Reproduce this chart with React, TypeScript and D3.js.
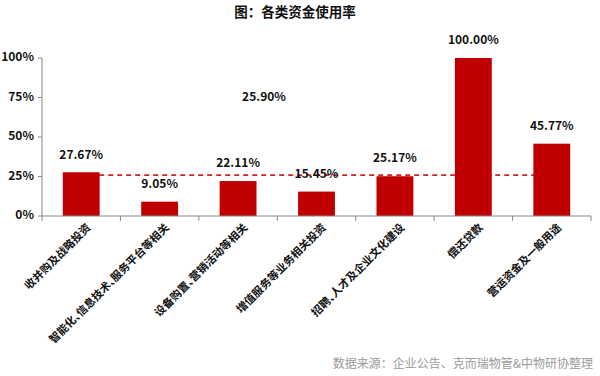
import React from "react";
import * as d3 from "d3";

const categories = [
  "收并购及战略投资",
  "智能化、信息技术、服务平台等相关",
  "设备购置、营销活动等相关",
  "增值服务等业务相关投资",
  "招聘、人才及企业文化建设",
  "偿还贷款",
  "营运资金及一般用途",
];
const values = [27.67, 9.05, 22.11, 15.45, 25.17, 100.0, 45.77];
const averageValue = 25.9;
const yTicks = [0, 25, 50, 75, 100];
const title = "图：各类资金使用率";
const source = "数据来源：企业公告、克而瑞物管&中物研协整理";

const W = 600;
const H = 376;
const FONT = "'Noto Sans CJK SC', 'Noto Sans', sans-serif";
const RED = "#C00000";

function splitLabel(s: string) {
  const parts: { t: string; comma: boolean }[] = [];
  let buf = "";
  for (const ch of s) {
    if (ch === "、") {
      if (buf) parts.push({ t: buf, comma: false });
      parts.push({ t: ch, comma: true });
      buf = "";
    } else buf += ch;
  }
  if (buf) parts.push({ t: buf, comma: false });
  return parts;
}

export default function App() {
  const left = 42;
  const right = 591;
  const top = 58;
  const bottom = 216;
  const x = d3.scaleBand<string>().domain(categories).range([left, right]).paddingInner(0.53).paddingOuter(0.265);
  const y = d3.scaleLinear().domain([0, 100]).range([bottom, top]);
  const bw = x.bandwidth();
  const boundaries = d3.range(categories.length + 1).map((i) => left + i * ((right - left) / categories.length));
  const cx = (c: string) => (x(c) as number) + bw / 2;

  return (
    <svg width={W} height={H} style={{ position: "absolute", left: 0, top: 0 }} fontFamily={FONT}>
      <rect width={W} height={H} fill="#fff" />
      <text x={295} y={13} textAnchor="middle" dominantBaseline="middle" fontSize={13.5} fontWeight="bold" fill="#111">
        {title}
      </text>
      {/* average dashed line */}
      <line
        x1={cx(categories[0])}
        x2={cx(categories[categories.length - 1])}
        y1={y(averageValue)}
        y2={y(averageValue)}
        stroke="#C8272A"
        strokeWidth={1.6}
        strokeDasharray="5,4"
      />
      <text x={264} y={y(75)} textAnchor="middle" dominantBaseline="middle" fontSize={12} fontWeight="bold" fill="#111">
        {averageValue.toFixed(2)}%
      </text>
      {/* bars */}
      {categories.map((c, i) => (
        <g key={c}>
          <rect x={x(c)} y={y(values[i])} width={bw} height={bottom - y(values[i])} fill={RED} />
          <text x={cx(c)} y={y(values[i]) - 17} textAnchor="middle" dominantBaseline="middle" fontSize={12} fontWeight="bold" fill="#111">
            {values[i].toFixed(2)}%
          </text>
        </g>
      ))}
      {/* y axis */}
      <line x1={left} x2={left} y1={top} y2={bottom} stroke="#888" strokeWidth={1} />
      {yTicks.map((t) => (
        <g key={t}>
          <line x1={left - 4} x2={left} y1={y(t)} y2={y(t)} stroke="#888" />
          <text x={left - 8} y={y(t)} textAnchor="end" dominantBaseline="middle" fontSize={12} fontWeight="bold" fill="#111">
            {t}%
          </text>
        </g>
      ))}
      {/* x axis */}
      <line x1={left} x2={right} y1={bottom} y2={bottom} stroke="#888" />
      {boundaries.map((b, i) => (
        <line key={i} x1={b} x2={b} y1={bottom} y2={bottom + 5} stroke="#888" />
      ))}
      {categories.map((c) => (
        <text
          key={c}
          transform={`translate(${cx(c) + 8},${bottom + 10}) rotate(-45)`}
          textAnchor="end"
          dominantBaseline="middle"
          fontSize={11}
          fontWeight="bold"
          fill="#111"
        >
          {splitLabel(c).map((p, k) => (
            <tspan key={k} letterSpacing={p.comma ? -6 : 0}>
              {p.t}
            </tspan>
          ))}
        </text>
      ))}
      <text x={593} y={365} textAnchor="end" dominantBaseline="middle" fontSize={12} fill="#9a9a9a">
        {source}
      </text>
    </svg>
  );
}
